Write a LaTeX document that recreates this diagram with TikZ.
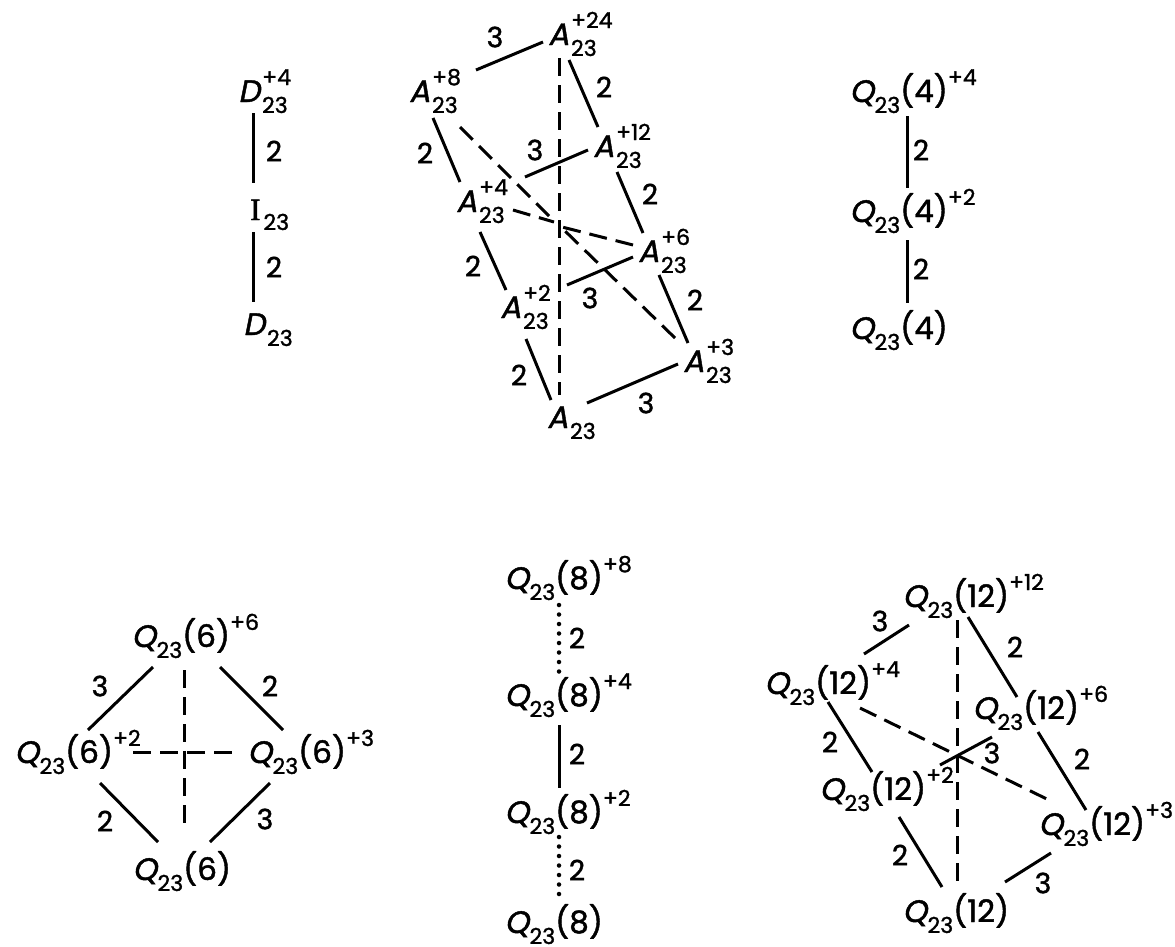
\documentclass[tikz,border=0pt]{standalone}
\usepackage{fontspec}
\setmainfont{Poppins}[FakeBold=1.4]
\newfontfamily\slf{Poppins}[FakeSlant=0.2,FakeBold=1.4]
\newfontfamily\serI{Liberation Serif}[FakeBold=1.5]
\newcommand\msz{\fontsize{31}{32}\selectfont}
\newcommand\ssz{\fontsize{22}{24}\selectfont}
\newcommand\mysub[1]{\raisebox{-11pt}{\ssz #1}}
\newcommand\mysup[1]{\raisebox{17pt}{\ssz #1}}
\newcommand\AL[3]{{\slf #1}\kern2pt\rlap{\mysub{#2}}\rlap{\mysup{#3}}}
\newcommand\QL[2]{\llap{{\slf Q}\kern0.5pt\mysub{23}}(#1)\mysup{#2}}
\begin{document}
\begin{tikzpicture}[x=1pt,y=-1pt,
  lab/.style={anchor=base west,inner sep=0pt,font=\msz},
  num/.style={inner sep=0pt,font=\fontsize{28}{30}\selectfont},
  ln/.style={line width=3pt},
  dsh/.style={line width=3pt,dash pattern=on 18pt off 9pt},
  dotl/.style={line width=4.5pt,line cap=round,dash pattern=on 0pt off 9.5pt}]
\useasboundingbox (0,0) rectangle (1175,946);
\clip (0,0) rectangle (1175,946);

% ---- D chain
\node[lab] (d4) at (238,102) {\AL{D}{23}{+4}};
\node[lab] (i23) at (250,220) {{\serI I}\kern3pt\rlap{\raisebox{-10pt}{\ssz 23}}};
\node[lab] (d23) at (243,335) {\AL{D}{23}{}};
\draw[ln] ([shift={(15,11)}]d4.base west) -- ([shift={(3,-37)}]i23.base west);
\draw[ln] ([shift={(3,12)}]i23.base west) -- ([shift={(10,-33)}]d23.base west);
\node[num] (ld1) at (274,151) {2};
\node[num] (ld2) at (274,267) {2};

% ---- A lattice
\node[lab] (a24) at (548,45) {\AL{A}{23}{+24}};
\node[lab] (a8) at (409,102) {\AL{A}{23}{+8}};
\node[lab] (a12) at (593,157) {\AL{A}{23}{+12}};
\node[lab] (a4) at (456,212) {\AL{A}{23}{+4}};
\node[lab] (a6) at (638,262) {\AL{A}{23}{+6}};
\node[lab] (a2) at (500,318) {\AL{A}{23}{+2}};
\node[lab] (a3) at (683,372) {\AL{A}{23}{+3}};
\node[lab] (a0) at (547,428) {\AL{A}{23}{}};
\coordinate (ac) at (558,224);
\draw[ln] ([shift={(67,-32)}]a8.base west) -- ([shift={(-5,-3)}]a24.base west);
\draw[ln] ([shift={(21,15)}]a24.base west) -- ([shift={(5,-30)}]a12.base west);
\draw[dsh] ([shift={(11,13)}]a24.base west) -- ([shift={(12,-33)}]a0.base west);
\draw[ln] ([shift={(24,16)}]a8.base west) -- ([shift={(4,-30)}]a4.base west);
\draw[dsh] ([shift={(51,25)}]a8.base west) -- ([shift={(-4,-3)}]ac);
\draw[ln] ([shift={(69,-35)}]a4.base west) -- ([shift={(-5,-7)}]a12.base west);
\draw[ln] ([shift={(24,15)}]a12.base west) -- ([shift={(5,-29)}]a6.base west);
\draw[dsh] ([shift={(57,-2)}]a4.base west) -- ([shift={(-4,-2)}]ac);
\draw[dsh] ([shift={(-5,-17)}]a6.base west) -- ([shift={(4,3)}]ac);
\draw[dsh] ([shift={(-8,-34)}]a3.base west) -- ([shift={(6,6)}]ac);
\draw[ln] ([shift={(24,20)}]a4.base west) -- ([shift={(6,-28)}]a2.base west);
\draw[ln] ([shift={(67,-33)}]a2.base west) -- ([shift={(-5,-5)}]a6.base west);
\draw[ln] ([shift={(21,13)}]a6.base west) -- ([shift={(5,-29)}]a3.base west);
\draw[ln] ([shift={(26,21)}]a2.base west) -- ([shift={(4,-28)}]a0.base west);
\draw[ln] ([shift={(40,-25)}]a0.base west) -- ([shift={(-5,-8)}]a3.base west);
\node[num] (la1) at (495,37) {3};
\node[num] (la2) at (604,87) {2};
\node[num] (la3) at (425,153) {2};
\node[num] (la4) at (535,150) {3};
\node[num] (la5) at (650,194) {2};
\node[num] (la6) at (473,266) {2};
\node[num] (la7) at (590,298) {3};
\node[num] (la8) at (695,300) {2};
\node[num] (la9) at (519,375) {2};
\node[num] (la10) at (646,403) {3};

% ---- Q(4)
\node[lab] (q4a) at (900,102) {\QL{4}{+4}};
\node[lab] (q4b) at (900,222) {\QL{4}{+2}};
\node[lab] (q4c) at (900,339) {\QL{4}{}};
\draw[ln] ([shift={(7,14)}]q4a.base west) -- ([shift={(7,-34)}]q4b.base west);
\draw[ln] ([shift={(7,18)}]q4b.base west) -- ([shift={(7,-36)}]q4c.base west);
\node[num] (lq41) at (921,150) {2};
\node[num] (lq42) at (921,269) {2};

% ---- Q(6)
\node[lab] (q6a) at (182,647) {\QL{6}{+6}};
\node[lab] (q6b) at (65,763) {\QL{6}{+2}};
\node[lab] (q6c) at (298,763) {\QL{6}{+3}};
\node[lab] (q6d) at (183,880) {\QL{6}{}};
\draw[ln] ([shift={(-29,20)}]q6a.base west) -- ([shift={(23,-33)}]q6b.base west);
\draw[ln] ([shift={(38,20)}]q6a.base west) -- ([shift={(-15,-33)}]q6c.base west);
\draw[dsh] ([shift={(2,23)}]q6a.base west) -- ([shift={(1,-50)}]q6d.base west);
\draw[dsh] ([shift={(68,-11)}]q6b.base west) -- ([shift={(-60,-11)}]q6c.base west);
\draw[ln] ([shift={(35,20)}]q6b.base west) -- ([shift={(-25,-38)}]q6d.base west);
\draw[ln] ([shift={(-28,20)}]q6c.base west) -- ([shift={(27,-38)}]q6d.base west);
\node[num] (lq61) at (100,686) {3};
\node[num] (lq62) at (270,686) {2};
\node[num] (lq63) at (105,821) {2};
\node[num] (lq64) at (265,819) {3};

% ---- Q(8)
\node[lab] (q8a) at (555,589) {\QL{8}{+8}};
\node[lab] (q8b) at (555,706) {\QL{8}{+4}};
\node[lab] (q8c) at (555,823) {\QL{8}{+2}};
\node[lab] (q8d) at (555,933) {\QL{8}{}};
\draw[dotl] ([shift={(4,16)}]q8a.base west) -- ([shift={(4,-31)}]q8b.base west);
\draw[ln] ([shift={(4,19)}]q8b.base west) -- ([shift={(4,-35)}]q8c.base west);
\draw[dotl] ([shift={(4,14)}]q8c.base west) -- ([shift={(4,-30)}]q8d.base west);
\node[num] (lq81) at (577,638) {2};
\node[num] (lq82) at (577,754) {2};
\node[num] (lq83) at (577,870) {2};

% ---- Q(12)
\node[lab] (q12a) at (953,607) {\QL{12}{+12}};
\node[lab] (q12b) at (815,694) {\QL{12}{+4}};
\node[lab] (q12c) at (1023,719) {\QL{12}{+6}};
\node[lab] (q12d) at (870,800) {\QL{12}{+2}};
\node[lab] (q12e) at (1089,835) {\QL{12}{+3}};
\node[lab] (q12f) at (953,922) {\QL{12}{}};
\draw[ln] ([shift={(-44,18)}]q12a.base west) -- ([shift={(49,-40)}]q12b.base west);
\draw[dsh] ([shift={(4,13)}]q12a.base west) -- ([shift={(4,-35)}]q12f.base west);
\draw[ln] ([shift={(15,10)}]q12a.base west) -- ([shift={(-6,-22)}]q12c.base west);
\draw[ln] ([shift={(13,8)}]q12b.base west) -- ([shift={(2,-28)}]q12d.base west);
\draw[dsh] ([shift={(45,14)}]q12b.base west) -- ([shift={(-36,-33)}]q12e.base west);
\draw[ln] ([shift={(70,-35)}]q12d.base west) -- ([shift={(-31,18)}]q12c.base west);
\draw[ln] ([shift={(15,13)}]q12c.base west) -- ([shift={(-3,-25)}]q12e.base west);
\draw[ln] ([shift={(29,17)}]q12d.base west) -- ([shift={(-11,-35)}]q12f.base west);
\draw[ln] ([shift={(52,-40)}]q12f.base west) -- ([shift={(-38,18)}]q12e.base west);
\node[num] (lq121) at (880,621) {3};
\node[num] (lq122) at (1015,647) {2};
\node[num] (lq123) at (830,742) {2};
\node[num] (lq124) at (992,753) {3};
\node[num] (lq125) at (1082,759) {2};
\node[num] (lq126) at (900,855) {2};
\node[num] (lq127) at (1043,883) {3};
\end{tikzpicture}
\end{document}
